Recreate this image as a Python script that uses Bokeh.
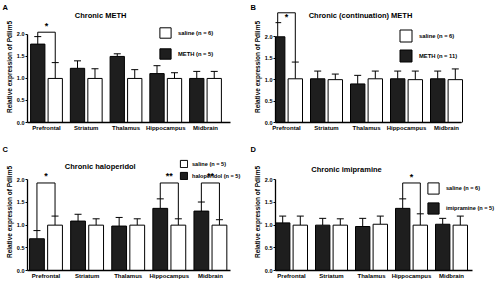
import numpy as np
from bokeh.plotting import figure
from bokeh.models import (ColumnDataSource, Whisker, TeeHead, Legend, LegendItem,
                          Label, Title, FixedTicker, NumeralTickFormatter)
from bokeh.layouts import column, row
from bokeh.embed import file_html
from bokeh.resources import INLINE
from bokeh.core.properties import value

# ---------------- data ----------------
regions = ["Prefrontal", "Striatum", "Thalamus", "Hippocampus", "Midbrain"]
y_ticks = [0.0, 0.5, 1.0, 1.5, 2.0]
y_label = "Relative expression of Pdlim5"

# Panel A
a_title = "Chronic METH"
a_saline_label = "saline (n = 6)"
a_drug_label = "METH (n = 5)"
a_drug_mean = [1.78, 1.23, 1.50, 1.11, 1.00]
a_drug_sem = [0.17, 0.17, 0.06, 0.18, 0.16]
a_sal_mean = [1.00, 1.00, 1.00, 1.00, 1.00]
a_sal_sem = [0.36, 0.22, 0.20, 0.13, 0.16]
a_sig_region = ["Prefrontal"]
a_sig_text = ["*"]
a_sig_level = [2.05]

# Panel B
b_title = "Chronic (continuation) METH"
b_saline_label = "saline (n = 6)"
b_drug_label = "METH (n = 11)"
b_drug_mean = [2.00, 1.02, 0.90, 1.02, 1.02]
b_drug_sem = [0.33, 0.18, 0.20, 0.18, 0.18]
b_sal_mean = [1.02, 1.00, 1.02, 1.00, 1.00]
b_sal_sem = [0.39, 0.13, 0.18, 0.20, 0.25]
b_sig_region = ["Prefrontal"]
b_sig_text = ["*"]
b_sig_level = [2.56]

# Panel C
c_title = "Chronic haloperidol"
c_saline_label = "saline (n = 5)"
c_drug_label = "haloperidol (n = 5)"
c_drug_mean = [0.70, 1.09, 0.98, 1.37, 1.31]
c_drug_sem = [0.18, 0.15, 0.19, 0.21, 0.20]
c_sal_mean = [1.00, 1.00, 1.00, 1.00, 1.00]
c_sal_sem = [0.20, 0.14, 0.14, 0.14, 0.12]
c_sig_region = ["Prefrontal", "Hippocampus", "Midbrain"]
c_sig_text = ["*", "**", "**"]
c_sig_level = [1.93, 1.93, 1.93]

# Panel D
d_title = "Chronic imipramine"
d_saline_label = "saline (n = 6)"
d_drug_label = "imipramine (n = 5)"
d_drug_mean = [1.05, 1.00, 0.97, 1.37, 1.02]
d_drug_sem = [0.15, 0.15, 0.18, 0.21, 0.13]
d_sal_mean = [1.00, 1.00, 1.02, 1.00, 1.00]
d_sal_sem = [0.20, 0.14, 0.18, 0.25, 0.20]
d_sig_region = ["Hippocampus"]
d_sig_text = ["*"]
d_sig_level = [1.93]

# ---------------- style / layout ----------------
FONT = "Liberation Sans"
DARK = "#1e1e1e"
BAR_W = 0.36
OFF = 0.22
FIG_W = 248
FIG_H = 142


def make_panel(letter, title, sal_label, drug_label, drug_mean, drug_sem,
               sal_mean, sal_sem, sig_region, sig_text, sig_level, lay):
    xs = np.arange(1, len(regions) + 1, dtype=float)
    x0 = lay["x0"]
    x1 = x0 + (FIG_W - lay["bl"]) / lay["ppu"]
    p = figure(width=FIG_W, height=FIG_H, x_range=(x0, x1), y_range=(0, lay["ytop"]),
               output_backend="svg", toolbar_location=None,
               min_border_left=lay["bl"], min_border_right=0,
               min_border_top=0, min_border_bottom=lay["bb"])
    p.outline_line_color = None
    p.grid.visible = False
    p.background_fill_color = "white"
    p.border_fill_color = "white"

    dm = np.array(drug_mean); ds = np.array(drug_sem)
    sm = np.array(sal_mean); ss = np.array(sal_sem)
    xd = xs - OFF
    xw = xs + OFF

    r_d = p.vbar(x=xd, top=dm, width=BAR_W, fill_color=DARK, line_color="black", line_width=1)
    r_s = p.vbar(x=xw, top=sm, width=BAR_W, fill_color="white", line_color="black", line_width=1)

    src = ColumnDataSource(dict(x=np.concatenate([xd, xw]),
                                lower=np.concatenate([dm, sm]),
                                upper=np.concatenate([dm + ds, sm + ss])))
    p.add_layout(Whisker(base="x", upper="upper", lower="lower", source=src,
                         upper_head=TeeHead(size=7, line_color="black", line_width=1),
                         lower_head=None, line_color="black", line_width=1))

    # significance brackets
    bx, by, tx, ty, tt = [], [], [], [], []
    for reg, txt, lev in zip(sig_region, sig_text, sig_level):
        i = regions.index(reg)
        bx.append([xd[i], xd[i], xw[i], xw[i]])
        by.append([dm[i] + ds[i], lev, lev, sm[i] + ss[i]])
        tx.append(xs[i]); ty.append(lev + lay["sdy"]); tt.append(txt)
    p.multi_line(xs=bx, ys=by, line_color="black", line_width=1)
    p.text(x=tx, y=ty, text=tt, text_align="center", text_baseline="middle",
           text_font=value(FONT), text_font_size="9px", text_font_style="bold",
           text_color="black")

    # axes
    xa = p.xaxis[0]
    xa.ticker = FixedTicker(ticks=list(xs))
    xa.major_label_overrides = {int(x): r for x, r in zip(xs, regions)}
    xa.bounds = (x0, lay["xend"])
    xa.major_tick_out = 0
    xa.major_tick_in = 0
    xa.major_tick_line_color = None
    xa.minor_tick_line_color = None
    xa.axis_line_width = 1.3
    xa.axis_line_color = "black"
    xa.major_label_standoff = 2
    xa.major_label_text_font = FONT
    xa.major_label_text_font_size = "6px"
    xa.major_label_text_font_style = "bold"
    xa.major_label_text_color = "black"

    ya = p.yaxis[0]
    ya.ticker = FixedTicker(ticks=y_ticks)
    ya.formatter = NumeralTickFormatter(format="0.0")
    ya.bounds = (min(y_ticks), max(y_ticks))
    ya.minor_tick_line_color = None
    ya.major_tick_out = 2
    ya.major_tick_in = 0
    ya.axis_line_width = 1.3
    ya.axis_line_color = "black"
    ya.major_tick_line_color = "black"
    ya.major_label_standoff = 1
    ya.major_label_text_font = FONT
    ya.major_label_text_font_size = "5.5px"
    ya.major_label_text_font_style = "bold"
    ya.major_label_text_color = "black"
    ya.axis_label = y_label
    ya.axis_label_standoff = 1
    ya.axis_label_text_font = FONT
    ya.axis_label_text_font_size = "6.5px"
    ya.axis_label_text_font_style = "bold"
    ya.axis_label_text_color = "black"

    # legend
    leg = Legend(items=[LegendItem(label=sal_label, renderers=[r_s]),
                        LegendItem(label=drug_label, renderers=[r_d])],
                 location=lay["leg"], orientation="vertical",
                 glyph_width=lay["gw"], glyph_height=lay["gh"],
                 label_height=lay["gh"], label_width=10,
                 spacing=lay["sp"], label_standoff=lay["ls"],
                 padding=0, margin=0, border_line_color=None,
                 background_fill_alpha=0,
                 label_text_font=FONT, label_text_font_size=lay["lfs"],
                 label_text_font_style="bold", label_text_color="black")
    p.add_layout(leg)

    # chart title inside the frame
    p.add_layout(Label(x=lay["tx"], y=lay["ty"], x_units="data", y_units="screen",
                       text=title, text_align="center", text_baseline="middle",
                       text_font=FONT, text_font_size="7.5px", text_font_style="bold",
                       text_color="black"))
    # panel letter above the frame
    p.add_layout(Title(text=letter, align="left", offset=-(lay["bl"] - 2), standoff=0,
                       text_font=FONT, text_font_size="7.5px", text_font_style="bold",
                       text_color="black"), "above")
    return p


lay_a = dict(bl=27, x0=0.522, ppu=39.75, xend=5.63, ytop=2.52, bb=20, leg=(131, 62),
             gw=14, gh=13, sp=8, ls=6, lfs="5.8px", tx=2.36, ty=107, sdy=0.14)
lay_b = dict(bl=27, x0=0.725, ppu=40.0, xend=5.375, ytop=2.59, bb=20, leg=(123, 59),
             gw=15, gh=15, sp=5, ls=6, lfs="5.8px", tx=2.85, ty=107, sdy=-0.09)
lay_c = dict(bl=27, x0=0.55, ppu=41.1, xend=5.49, ytop=2.58, bb=14, leg=(152, 90),
             gw=9, gh=9, sp=3, ls=4, lfs="5.6px", tx=2.32, ty=104, sdy=0.16)
lay_d = dict(bl=27, x0=0.60, ppu=40.0, xend=5.525, ytop=2.58, bb=14, leg=(151, 55),
             gw=14, gh=14, sp=6, ls=6, lfs="5.6px", tx=2.375, ty=101, sdy=0.14)

pa = make_panel("A", a_title, a_saline_label, a_drug_label, a_drug_mean, a_drug_sem,
                a_sal_mean, a_sal_sem, a_sig_region, a_sig_text, a_sig_level, lay_a)
pb = make_panel("B", b_title, b_saline_label, b_drug_label, b_drug_mean, b_drug_sem,
                b_sal_mean, b_sal_sem, b_sig_region, b_sig_text, b_sig_level, lay_b)
pc = make_panel("C", c_title, c_saline_label, c_drug_label, c_drug_mean, c_drug_sem,
                c_sal_mean, c_sal_sem, c_sig_region, c_sig_text, c_sig_level, lay_c)
pd_ = make_panel("D", d_title, d_saline_label, d_drug_label, d_drug_mean, d_drug_sem,
                 d_sal_mean, d_sal_sem, d_sig_region, d_sig_text, d_sig_level, lay_d)

p = column(row(pa, pb), row(pc, pd_))
open("out.html", "w").write(file_html(p, INLINE))
